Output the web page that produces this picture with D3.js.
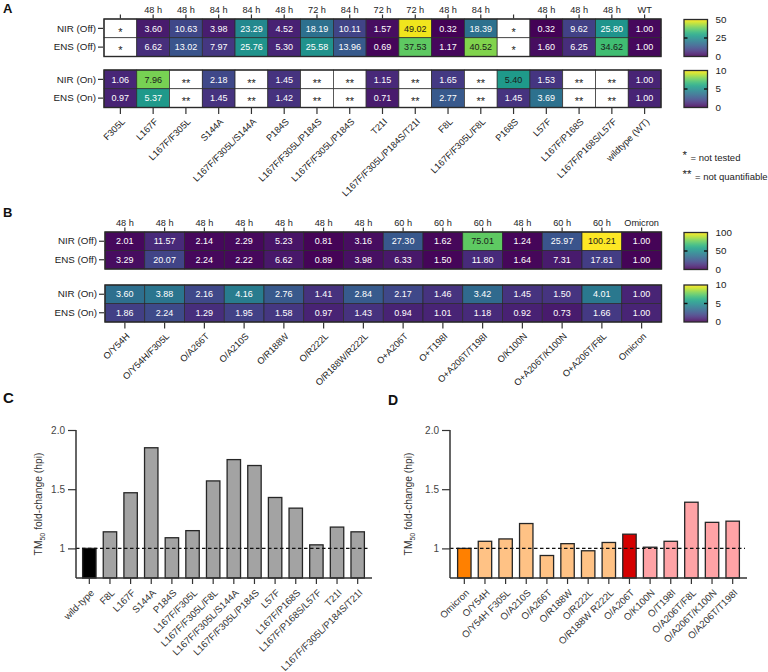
<!DOCTYPE html>
<html><head><meta charset="utf-8">
<script src="https://cdn.jsdelivr.net/npm/d3@7"></script>
<style>
body{margin:0;background:#fff}
svg{display:block}
text{font-family:"Liberation Sans",Arial,sans-serif}
</style>
</head><body>
<svg id="chart" width="768" height="672"></svg>
<script>
// ---------- Panel A data ----------
const aCategories = ["F305L","L167F","L167F/F305L","S144A","L167F/F305L/S144A","P184S","L167F/F305L/P184S","L167F/F305L/P184S","T21I","L167F/F305L/P184S/T21I","F8L","L167F/F305L/F8L","P168S","L57F","L167F/P168S","L167F/P168S/L57F","wildtype (WT)"];
const aTimes = ["","48 h","48 h","84 h","84 h","48 h","72 h","84 h","72 h","72 h","48 h","84 h","","48 h","48 h","48 h","WT"];
const aNirOff = ["*",3.60,10.63,3.98,23.29,4.52,18.19,10.11,1.57,49.02,0.32,18.39,"*",0.32,9.62,25.80,1.00];
const aEnsOff = ["*",6.62,13.02,7.97,25.76,5.30,25.58,13.96,0.69,37.53,1.17,40.52,"*",1.60,6.25,34.62,1.00];
const aNirOn  = [1.06,7.96,"**",2.18,"**",1.45,"**","**",1.15,"**",1.65,"**",5.40,1.53,"**","**",1.00];
const aEnsOn  = [0.97,5.37,"**",1.45,"**",1.42,"**","**",0.71,"**",2.77,"**",1.45,3.69,"**","**",1.00];
const aOffScaleTicks = [0,25,50];
const aOnScaleTicks = [0,5,10];

// ---------- Panel B data ----------
const bCategories = ["O/Y54H","O/Y54H/F305L","O/A266T","O/A210S","O/R188W","O/R222L","O/R188W/R222L","O+A206T","O+T198I","O+A206T/T198I","O/K100N","O+A206T/K100N","O+A206T/F8L","Omicron"];
const bTimes = ["48 h","48 h","48 h","48 h","48 h","48 h","48 h","60 h","60 h","60 h","48 h","60 h","60 h","Omicron"];
const bNirOff = [2.01,11.57,2.14,2.29,5.23,0.81,3.16,27.30,1.62,75.01,1.24,25.97,100.21,1.00];
const bEnsOff = [3.29,20.07,2.24,2.22,6.62,0.89,3.98,6.33,1.50,11.80,1.64,7.31,17.81,1.00];
const bNirOn  = [3.60,3.88,2.16,4.16,2.76,1.41,2.84,2.17,1.46,3.42,1.45,1.50,4.01,1.00];
const bEnsOn  = [1.86,2.24,1.29,1.95,1.58,0.97,1.43,0.94,1.01,1.18,0.92,0.73,1.66,1.00];
const bOffScaleTicks = [0,50,100];
const bOnScaleTicks = [0,5,10];

const offRows = ["NIR (Off)","ENS (Off)"];
const onRows = ["NIR (On)","ENS (On)"];

// ---------- Panel C data ----------
const cCategories = ["wild-type","F8L","L167F","S144A","P184S","L167F/F305L","L167F/F305L/F8L","L167F/F305L/S144A","L167F/F305L/P184S","L57F","L167F/P168S","L167F/P168S/L57F","T21I","L167F/F305L/P184S/T21I"];
const cValues = [1.00,1.14,1.47,1.85,1.09,1.15,1.57,1.75,1.70,1.43,1.34,1.03,1.18,1.14];
const cGroups = ["wt","m","m","m","m","m","m","m","m","m","m","m","m","m"];

// ---------- Panel D data ----------
const dCategories = ["Omicron","O/Y54H","O/Y54H F305L","O/A210S","O/A266T","O/R188W","O/R222L","O/R188W R222L","O/A206T","O/K100N","O/T198I","O/A206T/F8L","O/A206T/K100N","O/A206T/T198I"];
const dValues = [1.00,1.06,1.08,1.21,0.94,1.04,0.98,1.05,1.12,1.01,1.06,1.39,1.22,1.23];
const dGroups = ["omi","o","o","o","o","o","o","o","a206","a","a","a","a","a"];

const yTickValues = [1,1.5,2];
const yTickLabels = ["1","1.5","2.0"];

// ---------- styles ----------
const groupColor = {wt:"#000000", m:"#a3a3a3", omi:"#ff8000", o:"#ffc285", a206:"#d40000", a:"#ffa3a6"};
const svg = d3.select("#chart");
const defs = svg.append("defs");
const FONT = 9;
const FF = '"Liberation Sans",Arial,sans-serif';

function heat(x0, x1, y0, y1, rowNames, rows, vmax, times, cats) {
  const g = svg.append("g");
  const x = d3.scaleBand().domain(d3.range(rows[0].length)).range([x0, x1]);
  const y = d3.scaleBand().domain(rowNames).range([y0, y1]);
  const color = d3.scaleSequential(d3.interpolateViridis).domain([0, vmax]);
  rows.forEach((vals, r) => {
    vals.forEach((v, i) => {
      const num = typeof v === "number";
      g.append("rect")
        .attr("x", x(i)).attr("y", y(rowNames[r]))
        .attr("width", x.bandwidth()).attr("height", y.bandwidth())
        .attr("fill", num ? color(Math.min(v, vmax)) : "#ffffff")
        .attr("stroke", "#2a2a2a").attr("stroke-width", 0.7);
      const t = num ? v / vmax : 0;
      g.append("text")
        .attr("x", x(i) + x.bandwidth() / 2)
        .attr("y", y(rowNames[r]) + y.bandwidth() / 2 + (num ? 0 : 3.5))
        .attr("dy", "0.35em").attr("text-anchor", "middle")
        .attr("font-size", num ? FONT : 11)
        .attr("fill", num ? (t >= 0.54 ? "#1a1a1a" : "#ffffff") : "#222")
        .text(num ? v.toFixed(2) : v);
    });
  });
  g.append("rect").attr("x", x0).attr("y", y0).attr("width", x1 - x0).attr("height", y1 - y0)
    .attr("fill", "none").attr("stroke", "#2a2a2a").attr("stroke-width", 1.4);
  const la = g.append("g").attr("transform", `translate(${x0 - 1},0)`)
    .call(d3.axisLeft(y).tickSize(5).tickPadding(2));
  la.select(".domain").remove();
  la.selectAll("text").attr("font-size", 9.8).attr("fill", "#222").attr("font-family", FF);
  la.selectAll("line").attr("stroke", "#333").attr("stroke-width", 1.2);
  if (times) {
    const ta = g.append("g").attr("transform", `translate(0,${y0 - 0.5})`)
      .call(d3.axisTop(x).tickSize(4).tickPadding(2).tickFormat(i => times[i]));
    ta.select(".domain").remove();
    ta.selectAll("text").attr("font-size", 9.2).attr("fill", "#222").attr("font-family", FF);
    ta.selectAll("line").attr("stroke", "#333").attr("stroke-width", 1.2);
  }
  if (cats) {
    const ba = g.append("g").attr("transform", `translate(0,${y1 + 0.5})`)
      .call(d3.axisBottom(x).tickSize(6).tickFormat(i => cats[i]));
    ba.select(".domain").remove();
    ba.selectAll("line").attr("stroke", "#333").attr("stroke-width", 1.2);
    ba.selectAll("text").attr("font-size", 9.2).attr("fill", "#222").attr("font-family", FF)
      .attr("text-anchor", "end").attr("dy", "0.35em")
      .attr("transform", "translate(3,12) rotate(-45)").attr("y", 0);
  }
}

let gradN = 0;
function colorbar(x, y, w, h, ticks) {
  const id = "grad" + (gradN++);
  const lg = defs.append("linearGradient").attr("id", id)
    .attr("x1", 0).attr("y1", 1).attr("x2", 0).attr("y2", 0);
  d3.range(0, 1.0001, 0.05).forEach(t => {
    lg.append("stop").attr("offset", t).attr("stop-color", d3.interpolateViridis(t));
  });
  svg.append("rect").attr("x", x).attr("y", y).attr("width", w).attr("height", h)
    .attr("fill", `url(#${id})`).attr("fill-opacity", 0.88).attr("stroke", "#2a2a2a").attr("stroke-width", 1.3);
  const s = d3.scaleLinear().domain([ticks[0], ticks[ticks.length - 1]]).range([y + h, y]);
  ticks.forEach(t => {
    svg.append("text").attr("x", x + w + 8).attr("y", s(t)).attr("dy", "0.35em")
      .attr("font-size", 9.8).attr("fill", "#222").text(t);
  });
  const m = s(ticks[1]);
  svg.append("line").attr("x1", x).attr("x2", x + 3.5).attr("y1", m).attr("y2", m).attr("stroke", "#111").attr("stroke-width", 1.4);
  svg.append("line").attr("x1", x + w - 3.5).attr("x2", x + w).attr("y1", m).attr("y2", m).attr("stroke", "#111").attr("stroke-width", 1.4);
}

// Panel A
heat(104, 661, 19, 56.5, offRows, [aNirOff, aEnsOff], 50, aTimes, null);
heat(104, 661, 70, 107.5, onRows, [aNirOn, aEnsOn], 10, null, aCategories);
colorbar(684, 19.5, 23.5, 37, aOffScaleTicks);
colorbar(684, 70.5, 23.5, 37, aOnScaleTicks);

// Panel B
heat(105, 661.5, 232, 269, offRows, [bNirOff, bEnsOff], 100, bTimes, null);
heat(105, 661.5, 285, 322, onRows, [bNirOn, bEnsOn], 10, null, bCategories);
colorbar(684, 232.5, 23.5, 37, bOffScaleTicks);
colorbar(684, 285, 23.5, 37, bOnScaleTicks);

// Legend notes
[["*", "= not tested", 158], ["**", "= not quantifiable", 177]].forEach(([s, t, yy]) => {
  svg.append("text").attr("x", 682.5).attr("y", yy + 1).attr("font-size", 11.5).attr("fill", "#222").text(s);
  svg.append("text").attr("x", s.length === 1 ? 690.5 : 695).attr("y", yy).attr("dy", "0.35em")
    .attr("font-size", 9.5).attr("fill", "#222").text(t);
});

// Bar charts
function bars(xa0, xa1, bx0, bx1, cats, vals, groups, labelX) {
  const g = svg.append("g");
  const x = d3.scaleBand().domain(d3.range(cats.length)).range([bx0, bx1]).paddingInner(0.35).paddingOuter(0.175);
  const y = d3.scaleLinear().domain([0.75, 2.0]).range([578, 430]);
  g.selectAll("rect").data(vals).join("rect")
    .attr("x", (d, i) => x(i)).attr("width", x.bandwidth())
    .attr("y", d => y(d)).attr("height", d => y(0.75) - y(d))
    .attr("fill", (d, i) => groupColor[groups[i]])
    .attr("stroke", "#262626").attr("stroke-width", 1.3);
  g.append("line").attr("x1", xa0).attr("x2", xa1 - 2).attr("y1", y(1)).attr("y2", y(1))
    .attr("stroke", "#111").attr("stroke-width", 1.2).attr("stroke-dasharray", "3.5,2.5");
  const ya = g.append("g").attr("transform", `translate(${xa0},0)`)
    .call(d3.axisLeft(y).tickValues(yTickValues).tickSize(8).tickPadding(3).tickFormat((d, i) => yTickLabels[i]));
  ya.select(".domain").attr("d", `M0,${y(2)}V${y(0.75)}`).attr("stroke", "#333").attr("stroke-width", 1.5);
  ya.selectAll("line").attr("stroke", "#333").attr("stroke-width", 1.2);
  ya.selectAll("text").attr("font-size", 10).attr("fill", "#444").attr("font-family", FF);
  g.append("line").attr("x1", xa0).attr("x2", xa1).attr("y1", y(0.75)).attr("y2", y(0.75))
    .attr("stroke", "#333").attr("stroke-width", 1.5);
  const xa = g.append("g").attr("transform", `translate(0,${y(0.75)})`)
    .call(d3.axisBottom(x).tickSize(6).tickFormat(i => cats[i]));
  xa.select(".domain").remove();
  xa.selectAll("line").attr("stroke", "#333").attr("stroke-width", 1.2);
  xa.selectAll("text").attr("font-size", 9.6).attr("fill", "#333").attr("font-family", FF)
    .attr("text-anchor", "end").attr("dy", "0.35em").attr("y", 0)
    .attr("transform", "translate(3,13) rotate(-45)");
  const yl = g.append("text").attr("transform", `translate(${labelX},${y(1.375)}) rotate(-90)`)
    .attr("text-anchor", "middle").attr("font-size", 10.3).attr("fill", "#333");
  yl.append("tspan").text("TM");
  yl.append("tspan").attr("font-size", 7).attr("dy", 2.5).text("50");
  yl.append("tspan").attr("dy", -2.5).text(" fold-change (hpi)");
}
bars(76, 372, 79, 368, cCategories, cValues, cGroups, 42);
bars(450, 747, 454, 743, dCategories, dValues, dGroups, 412);

// Panel letters
[["A", 3, 13, 13], ["B", 3, 217, 13], ["C", 3, 403, 15], ["D", 388, 405, 14]].forEach(([t, x, y, fs]) => {
  svg.append("text").attr("x", x).attr("y", y).attr("font-size", fs).attr("font-weight", "bold").attr("fill", "#111").text(t);
});
</script>
</body></html>
